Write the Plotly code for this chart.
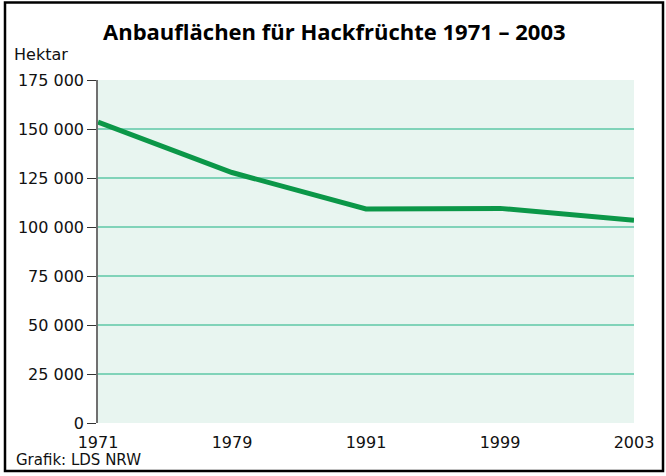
import plotly.graph_objects as go

years = ["1971", "1979", "1991", "1999", "2003"]
hektar = [153500, 127800, 109200, 109500, 103500]
y_tickvals = [0, 25000, 50000, 75000, 100000, 125000, 150000, 175000]
y_ticktext = ["0", "25 000", "50 000", "75 000", "100 000", "125 000", "150 000", "175 000"]

W, H = 666, 476
L, R, T, B = 98, 32, 80, 53
pw, ph = W - L - R, H - T - B

def px(x):
    return (x - L) / pw

def py(y):
    return (H - B - y) / ph

FONT = "DejaVu Sans"

fig = go.Figure()
fig.add_trace(go.Scatter(
    x=years, y=hektar, mode="lines",
    line=dict(color="#0b9748", width=5),
    cliponaxis=False, hoverinfo="skip",
))

fig.update_layout(
    width=W, height=H,
    margin=dict(l=L, r=R, t=T, b=B),
    paper_bgcolor="white",
    plot_bgcolor="#e8f5f0",
    showlegend=False,
    font=dict(family=FONT, size=16, color="#111111"),
    xaxis=dict(
        type="category", range=[0, 4],
        showgrid=False, zeroline=False, showline=False,
        ticks="outside", ticklen=5, tickcolor="rgba(0,0,0,0)",
        tickfont=dict(size=16, family=FONT, color="#111111"),
    ),
    yaxis=dict(
        range=[0, 175000],
        tickvals=y_tickvals, ticktext=y_ticktext,
        showgrid=True, gridcolor="#80d3b9", gridwidth=1.5,
        zeroline=False,
        showline=True, linecolor="#707070", linewidth=1.5,
        ticks="outside", ticklen=9, tickcolor="#333333", tickwidth=1.2,
        tickfont=dict(size=16, family=FONT, color="#111111"),
    ),
    annotations=[
        dict(text="<b>Anbauflächen für Hackfrüchte 1971 – 2003</b>",
             xref="paper", yref="paper", x=px(334), y=py(31),
             xanchor="center", yanchor="middle", showarrow=False,
             font=dict(size=22, family="Open Sans", color="#000000")),
        dict(text="Hektar", xref="paper", yref="paper", x=px(12), y=py(55),
             xanchor="left", yanchor="middle", showarrow=False,
             font=dict(size=16, family=FONT, color="#111111")),
        dict(text="Grafik: LDS NRW", xref="paper", yref="paper", x=px(14), y=py(460),
             xanchor="left", yanchor="middle", showarrow=False,
             font=dict(size=15, family=FONT, color="#111111")),
    ],
    shapes=[
        dict(type="rect", xref="paper", yref="paper",
             x0=px(5), x1=px(663), y0=py(471), y1=py(2.5),
             line=dict(color="#000000", width=2.5), fillcolor="rgba(0,0,0,0)",
             layer="above"),
    ],
)

fig.write_html("out.html", config={"displayModeBar": False},
               post_script="document.body.style.margin='0';document.body.style.overflow='hidden';")
